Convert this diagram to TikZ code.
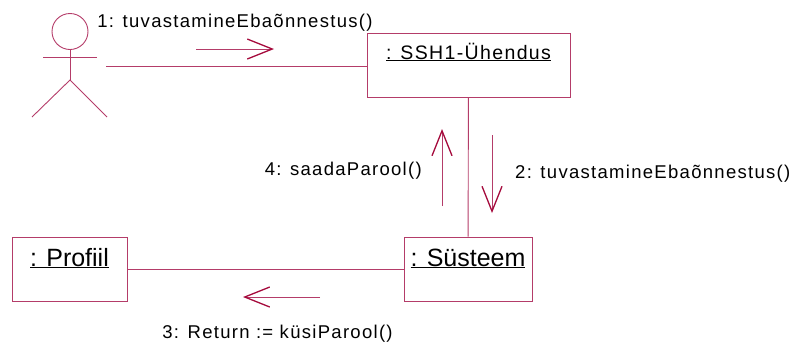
\documentclass[tikz,border=0pt]{standalone}
\usepackage{fontspec}
\setmainfont{Liberation Sans}
\newfontfamily\msgfont[LetterSpace=7]{Liberation Sans}
\usepackage{tikz}
\usetikzlibrary{positioning}
\usetikzlibrary{arrows.meta}

\definecolor{umlline}{RGB}{180,60,105}
\definecolor{umltip}{RGB}{165,10,60}

\tikzset{
    objbox/.style={draw=umlline, line width=0.9pt, inner xsep=0pt, inner ysep=0pt,
        minimum height=64pt, text height=29pt, text depth=35pt,
        font=\fontsize{25}{28}\selectfont},
    link/.style={draw=umlline, line width=0.9pt},
    msg/.style={draw=umlline, line width=0.9pt,
        -{Straight Barb[length=25pt, width=20pt, line width=1.3pt, color=umltip]}},
    msglabel/.style={font=\msgfont\fontsize{18.5}{20}\selectfont, inner sep=0pt}
}

\begin{document}
\begin{tikzpicture}[x=1pt, y=-1pt]
    \useasboundingbox (0,0) rectangle (789,349);

    % Draw actor
    \draw[link] (70,31.5) circle (18);
    \draw[link] (70,49.5) -- (70,80);
    \draw[link] (43,57) -- (97,57);
    \draw[link] (32,117) -- (70,80) -- (107,117);
    \coordinate (actor) at (106,66);

    % Add objects
    \node[objbox, minimum width=203pt, text height=26pt, text depth=38pt,
        font=\msgfont\fontsize{19.5}{22}\selectfont] (ssh) at (468.5,65) {\underline{: SSH1-Ühendus}};
    \node[objbox, minimum width=128pt] (systeem) at (468,269) {\underline{: Süsteem}};
    \node[objbox, minimum width=115pt] (profiil) at (69.5,269) {\underline{: Profiil}};

    % Links between objects
    \draw[link] (actor) -- (ssh.west |- actor);
    \draw[link] (ssh) -- (systeem);
    \draw[link] (profiil) -- (systeem);

    % Message arrows
    \coordinate (m1a) at (196,49);  \coordinate (m1b) at (274,49);
    \coordinate (m2a) at (492,135); \coordinate (m2b) at (492,213);
    \coordinate (m3a) at (320,297); \coordinate (m3b) at (243,297);
    \coordinate (m4a) at (442,206); \coordinate (m4b) at (442,129);
    \foreach \from/\to in {m1a/m1b, m2a/m2b, m3a/m3b, m4a/m4b} {
        \draw[msg] (\from) -- (\to);
    }

    % Message labels
    \node[msglabel, anchor=base] (msgone) at (235,27) {1: tuvastamineEbaõnnestus()};
    \node[msglabel, anchor=base west] (msgtwo) at (515,178) {2: tuvastamineEbaõnnestus()};
    \node[msglabel, anchor=base] (msgthree) at (277.5,338) {3: Return := küsiParool()};
    \node[msglabel, anchor=base east] (msgfour) at (422,175) {4: saadaParool()};

\end{tikzpicture}
\end{document}
